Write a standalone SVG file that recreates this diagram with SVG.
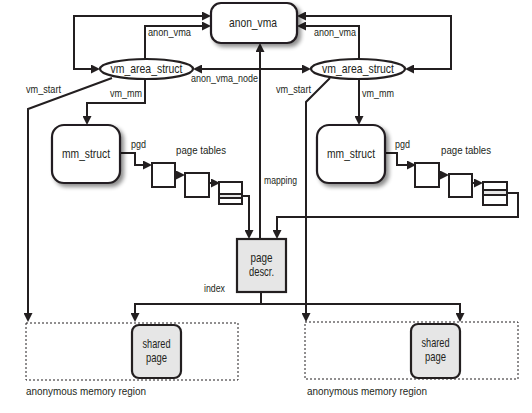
<svg xmlns="http://www.w3.org/2000/svg" width="532" height="413" viewBox="0 0 532 413">
<style>
.ln{fill:none;stroke:#231f20;stroke-width:2}
.ar{marker-end:url(#ah)}
.ar2{marker-start:url(#ah);marker-end:url(#ah)}
.box{fill:#fff;stroke:#231f20;stroke-width:2.2}
.gbox{fill:#e6e6e6;stroke:#231f20;stroke-width:2.2}
.pt{fill:#fff;stroke:#231f20;stroke-width:2}
.dash{fill:none;stroke:#231f20;stroke-width:1;stroke-dasharray:2,2}
text{font-family:"Liberation Sans Narrow","Liberation Sans",Arial,sans-serif;fill:#231f20}
.lb{font-size:11px}
.nd{font-size:13px;text-anchor:middle}
</style>
<defs>
<marker id="ah" viewBox="0 0 10 10" refX="6.7" refY="5" markerWidth="9" markerHeight="9" markerUnits="userSpaceOnUse" orient="auto-start-reverse">
<path d="M0,0 L10,5 L0,10 z" fill="#231f20"/>
</marker>
<filter id="sh" x="-20%" y="-20%" width="150%" height="150%">
<feGaussianBlur in="SourceAlpha" stdDeviation="2"/>
<feOffset dx="3" dy="3" result="b"/>
<feComponentTransfer><feFuncA type="linear" slope="0.45"/></feComponentTransfer>
<feMerge><feMergeNode/><feMergeNode in="SourceGraphic"/></feMerge>
</filter>
</defs>

<g id="connectors">
<path class="ln ar2" d="M208,16 L74,16 L74,69 L97,69"/>
<path class="ln ar" d="M145,59 L145,26 L208,26"/>
<path class="ln ar2" d="M300,16 L451,16 L451,69 L408,69"/>
<path class="ln ar" d="M359,59 L359,26 L300,26"/>
<path class="ln ar2" d="M196,69 L308,69"/>
<path class="ln ar" d="M260,239 L260,46"/>
<path class="ln ar" d="M112,78 L28,109 L28,319"/>
<path class="ln ar" d="M145,79 L145,103 L87,103 L87,122"/>
<path class="ln ar" d="M330,78 L306,102 L306,319"/>
<path class="ln ar" d="M359,79 L359,122"/>
<path class="ln ar" d="M120,153 L135,153 L135,165 L149,165"/>
<path class="ln ar" d="M170,175 L182,175"/>
<path class="ln ar" d="M206,183 L217,183"/>
<path class="ln ar" d="M240,196 L249,196 L249,236"/>
<path class="ln ar" d="M385,153 L397,153 L397,165 L413,165"/>
<path class="ln ar" d="M434,175 L446,175"/>
<path class="ln ar" d="M468,183 L480,183"/>
<path class="ln ar" d="M505,193 L518,193 L518,217 L277,217 L277,236"/>
<path class="ln" d="M261,292 L261,304"/>
<path class="ln ar2" d="M135,319 L135,304 L460,304 L460,319"/>
</g>

<g id="labels">
<text class="lb" x="148" y="36" textLength="43" lengthAdjust="spacingAndGlyphs">anon_vma</text>
<text class="lb" x="314" y="36" textLength="42" lengthAdjust="spacingAndGlyphs">anon_vma</text>
<text class="lb" x="191" y="82" textLength="67" lengthAdjust="spacingAndGlyphs">anon_vma_node</text>
<text class="lb" x="26" y="93" textLength="35" lengthAdjust="spacingAndGlyphs">vm_start</text>
<text class="lb" x="110" y="97" textLength="32" lengthAdjust="spacingAndGlyphs">vm_mm</text>
<text class="lb" x="276" y="93" textLength="35" lengthAdjust="spacingAndGlyphs">vm_start</text>
<text class="lb" x="362" y="97" textLength="32" lengthAdjust="spacingAndGlyphs">vm_mm</text>
<text class="lb" x="131" y="148" textLength="15" lengthAdjust="spacingAndGlyphs">pgd</text>
<text class="lb" x="395" y="148" textLength="15" lengthAdjust="spacingAndGlyphs">pgd</text>
<text class="lb" x="176" y="154" font-size="12" textLength="50" lengthAdjust="spacingAndGlyphs">page tables</text>
<text class="lb" x="441" y="154" font-size="12" textLength="50" lengthAdjust="spacingAndGlyphs">page tables</text>
<text class="lb" x="264" y="184" textLength="33" lengthAdjust="spacingAndGlyphs">mapping</text>
<text class="lb" x="204" y="292" textLength="21" lengthAdjust="spacingAndGlyphs">index</text>
<text class="lb" x="26" y="395" font-size="12" textLength="120" lengthAdjust="spacingAndGlyphs">anonymous memory region</text>
<text class="lb" x="307" y="395" font-size="12" textLength="120" lengthAdjust="spacingAndGlyphs">anonymous memory region</text>
</g>

<g id="anon_vma">
<rect class="box" x="211" y="3" width="86" height="40" rx="10" filter="url(#sh)"/>
<text class="nd" x="253" y="27" textLength="48" lengthAdjust="spacingAndGlyphs">anon_vma</text>
</g>

<g id="vma_left">
<ellipse class="box" cx="146.5" cy="69" rx="46.5" ry="10"/>
<text class="nd" x="146.5" y="73" textLength="72" lengthAdjust="spacingAndGlyphs">vm_area_struct</text>
</g>

<g id="vma_right">
<ellipse class="box" cx="358" cy="69" rx="47" ry="10"/>
<text class="nd" x="358" y="73" textLength="72" lengthAdjust="spacingAndGlyphs">vm_area_struct</text>
</g>

<g id="mm_left">
<rect class="box" x="52" y="125" width="68" height="58" rx="12" filter="url(#sh)"/>
<text class="nd" x="86" y="158" textLength="48" lengthAdjust="spacingAndGlyphs">mm_struct</text>
</g>

<g id="mm_right">
<rect class="box" x="317" y="125" width="68" height="58" rx="12" filter="url(#sh)"/>
<text class="nd" x="351" y="158" textLength="48" lengthAdjust="spacingAndGlyphs">mm_struct</text>
</g>

<g id="pt_left">
<rect class="pt" x="152" y="163" width="23" height="24"/>
<rect class="pt" x="185" y="173" width="24" height="24"/>
<rect class="pt" x="219" y="182" width="23" height="22"/>
<rect x="219" y="194" width="23" height="4" fill="#e6e6e6" stroke="#231f20" stroke-width="2"/>
</g>

<g id="pt_right">
<rect class="pt" x="415" y="163" width="24" height="24"/>
<rect class="pt" x="449" y="174" width="23" height="23"/>
<rect class="pt" x="483" y="182" width="24" height="23"/>
<rect x="483" y="190" width="24" height="5" fill="#e6e6e6" stroke="#231f20" stroke-width="2"/>
</g>

<g id="page_descr">
<rect class="gbox" x="237" y="239" width="49" height="53"/>
<text class="nd" x="261.5" y="262" textLength="22" lengthAdjust="spacingAndGlyphs">page</text>
<text class="nd" x="261.5" y="276" textLength="25" lengthAdjust="spacingAndGlyphs">descr.</text>
</g>

<g id="region_left">
<rect class="dash" x="26" y="323" width="212" height="57"/>
</g>
<g id="shared_left">
<rect class="gbox" x="132" y="325" width="49" height="53" rx="7"/>
<text class="nd" x="156.5" y="348" textLength="28" lengthAdjust="spacingAndGlyphs">shared</text>
<text class="nd" x="156.5" y="362" textLength="21" lengthAdjust="spacingAndGlyphs">page</text>
</g>

<g id="region_right">
<rect class="dash" x="305" y="322" width="213" height="57"/>
</g>
<g id="shared_right">
<rect class="gbox" x="411" y="324" width="49" height="54" rx="7"/>
<text class="nd" x="435.5" y="347" textLength="28" lengthAdjust="spacingAndGlyphs">shared</text>
<text class="nd" x="435.5" y="361" textLength="21" lengthAdjust="spacingAndGlyphs">page</text>
</g>
</svg>
